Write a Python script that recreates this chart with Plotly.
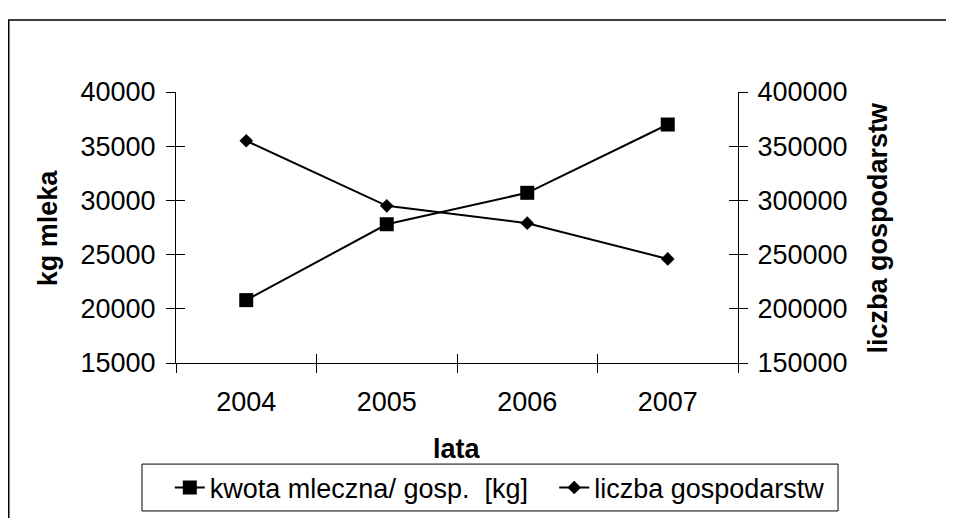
import plotly.graph_objects as go

years = ["2004", "2005", "2006", "2007"]
kwota = [20800, 27800, 30700, 37000]          # kg mleka / gosp.
liczba = [355000, 295000, 279000, 246000]     # liczba gospodarstw

left_ticks = [15000, 20000, 25000, 30000, 35000, 40000]
right_ticks = [150000, 200000, 250000, 300000, 350000, 400000]

FONT = "Liberation Sans, Arial, sans-serif"
FS = 27

fig = go.Figure()

fig.add_trace(go.Scatter(
    x=years, y=kwota, name="kwota mleczna/ gosp.  [kg]",
    mode="lines+markers", xaxis="x", yaxis="y", legend="legend",
    line=dict(color="black", width=2),
    marker=dict(symbol="square", size=14, color="black"),
))
fig.add_trace(go.Scatter(
    x=years, y=liczba, name="liczba gospodarstw",
    mode="lines+markers", xaxis="x", yaxis="y2", legend="legend2",
    line=dict(color="black", width=2),
    marker=dict(symbol="diamond", size=10.5, color="black"),
))
# invisible helper traces so the overlay tick axes (inner half of crossing ticks) are drawn
fig.add_trace(go.Scatter(x=years, y=kwota, xaxis="x2", yaxis="y3", mode="lines",
                         opacity=0, showlegend=False, hoverinfo="skip"))
fig.add_trace(go.Scatter(x=years, y=liczba, xaxis="x2", yaxis="y4", mode="lines",
                         opacity=0, showlegend=False, hoverinfo="skip"))

tick_common = dict(tickcolor="black", ticklen=9, tickwidth=1)
leg_common = dict(orientation="h", yanchor="middle", y=-0.461, xanchor="left",
                  borderwidth=0, bgcolor="rgba(0,0,0,0)",
                  font=dict(family=FONT, size=FS))

fig.update_layout(
    width=954, height=518,
    # page body has an 8px default margin, so margins are reduced by 8 to compensate
    margin=dict(l=168, r=224, t=84, b=163, autoexpand=False),
    paper_bgcolor="white", plot_bgcolor="white",
    font=dict(family=FONT, size=FS, color="black"),
    showlegend=True,
    legend=dict(x=-0.011, **leg_common),
    legend2=dict(x=0.673, **leg_common),
    xaxis=dict(
        type="category", range=[-0.5, 3.5], tickson="boundaries",
        ticks="outside", **tick_common, showline=True, linecolor="black", linewidth=1,
        showgrid=False, zeroline=False, ticklabelstandoff=15,
        tickfont=dict(family=FONT, size=FS),
    ),
    xaxis2=dict(
        type="category", range=[-0.5, 3.5], tickson="boundaries", overlaying="x",
        anchor="y3", side="bottom",
        ticks="inside", **tick_common, showline=False, showticklabels=False,
        showgrid=False, zeroline=False,
    ),
    yaxis=dict(
        range=[15000, 40000], tickvals=left_ticks, tickformat="d",
        ticks="outside", **tick_common, showline=True, linecolor="black", linewidth=1,
        showgrid=False, zeroline=False, ticklabelstandoff=5,
        tickfont=dict(family=FONT, size=FS),
    ),
    yaxis2=dict(
        range=[150000, 400000], tickvals=right_ticks, tickformat="d",
        overlaying="y", side="right", anchor="x",
        ticks="outside", **tick_common, showline=True, linecolor="black", linewidth=1,
        showgrid=False, zeroline=False, ticklabelstandoff=4,
        tickfont=dict(family=FONT, size=FS),
    ),
    yaxis3=dict(
        range=[15000, 40000], tickvals=left_ticks, overlaying="y", side="left", anchor="x2",
        ticks="inside", **tick_common, showline=False, showticklabels=False,
        showgrid=False, zeroline=False,
    ),
    yaxis4=dict(
        range=[150000, 400000], tickvals=right_ticks, overlaying="y", side="right", anchor="x2",
        ticks="inside", **tick_common, showline=False, showticklabels=False,
        showgrid=False, zeroline=False,
    ),
    annotations=[
        dict(text="<b>kg mleka</b>", xref="paper", yref="paper", x=-0.228, y=0.5,
             textangle=-90, showarrow=False, xanchor="center", yanchor="middle",
             font=dict(family=FONT, size=FS)),
        dict(text="<b>liczba gospodarstw</b>", xref="paper", yref="paper", x=1.249, y=0.5,
             textangle=-90, showarrow=False, xanchor="center", yanchor="middle",
             font=dict(family=FONT, size=FS)),
        dict(text="<b>lata</b>", xref="paper", yref="paper", x=0.5, y=-0.317,
             showarrow=False, xanchor="center", yanchor="middle",
             font=dict(family=FONT, size=FS)),
    ],
    shapes=[
        # outer chart border
        dict(type="rect", xref="paper", yref="paper",
             x0=-0.2976, x1=1.3817, y0=-0.616, y1=1.2657,
             line=dict(color="black", width=1.5), fillcolor="rgba(0,0,0,0)", layer="below"),
        # legend box
        dict(type="rect", xref="paper", yref="paper",
             x0=-0.0605, x1=1.178, y0=-0.546, y1=-0.373,
             line=dict(color="black", width=1), fillcolor="rgba(0,0,0,0)", layer="below"),
    ],
)

fig.write_html("out.html")
